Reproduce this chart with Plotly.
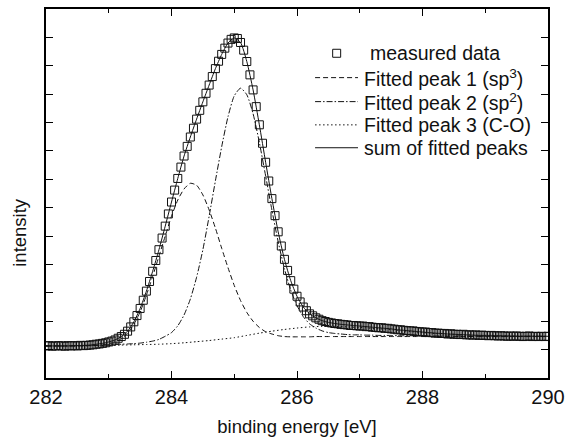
import plotly.graph_objects as go

# binding energy grid: data every 0.05 eV, fits every 0.1 eV, peak 3 every 0.2 eV, all from 282 eV
e_start = 282.0

# measured C1s spectrum (intensity, arb. units), 282.00 ... 290.00 eV in 0.05 eV steps
measured = [
    1.13, 1.14, 1.12, 1.13, 1.14, 1.13, 1.12, 1.14, 1.13, 1.14, 1.13, 1.15, 1.14, 1.15, 1.16, 1.17, 1.19, 1.20, 1.22, 1.24,
    1.27, 1.30, 1.34, 1.40, 1.46, 1.54, 1.65, 1.80, 1.98, 2.20, 2.45, 2.74, 3.06, 3.40, 3.76, 4.14, 4.52, 4.93, 5.35, 5.78,
    6.20, 6.62, 7.03, 7.43, 7.82, 8.16, 8.49, 8.80, 9.12, 9.43, 9.73, 10.03, 10.32, 10.62, 10.90, 11.16, 11.40, 11.62, 11.80, 11.93,
    11.98, 11.96, 11.82, 11.55, 11.15, 10.68, 10.15, 9.56, 8.92, 8.27, 7.60, 6.94, 6.32, 5.72, 5.15, 4.65, 4.18, 3.79, 3.43, 3.13,
    2.88, 2.68, 2.50, 2.37, 2.26, 2.19, 2.12, 2.07, 2.02, 1.99, 1.96, 1.94, 1.92, 1.91, 1.89, 1.88, 1.87, 1.85, 1.85, 1.84,
    1.83, 1.83, 1.81, 1.81, 1.79, 1.78, 1.77, 1.77, 1.75, 1.75, 1.73, 1.72, 1.70, 1.70, 1.68, 1.67, 1.66, 1.66, 1.64, 1.63,
    1.62, 1.62, 1.60, 1.60, 1.58, 1.58, 1.57, 1.57, 1.55, 1.56, 1.54, 1.54, 1.53, 1.54, 1.52, 1.52, 1.51, 1.52, 1.50, 1.51,
    1.50, 1.49, 1.50, 1.49, 1.48, 1.49, 1.48, 1.47, 1.48, 1.47, 1.48, 1.47, 1.46, 1.47, 1.48, 1.46, 1.47, 1.46, 1.47, 1.46,
    1.47,
]

# fitted components (background included), 0.1 eV steps
peak1_sp3 = [
    1.13, 1.13, 1.13, 1.13, 1.13, 1.13, 1.13, 1.14, 1.15, 1.17,
    1.21, 1.27, 1.38, 1.58, 1.89, 2.33, 2.92, 3.58, 4.29, 5.00,
    5.70, 6.27, 6.66, 6.86, 6.79, 6.45, 5.92, 5.28, 4.57, 3.89,
    3.26, 2.73, 2.31, 2.00, 1.78, 1.63, 1.55, 1.49, 1.46, 1.45,
    1.45, 1.45, 1.45, 1.46, 1.46, 1.46, 1.46, 1.46, 1.46, 1.46,
    1.46, 1.46, 1.46, 1.46, 1.46, 1.46, 1.46, 1.46, 1.46, 1.46,
    1.46, 1.46, 1.46, 1.46, 1.46, 1.46, 1.46, 1.46, 1.46, 1.46,
    1.46, 1.46, 1.46, 1.46, 1.46, 1.46, 1.46, 1.46, 1.46, 1.46,
    1.46,
]
peak2_sp2 = [
    1.13, 1.13, 1.13, 1.13, 1.14, 1.14, 1.14, 1.15, 1.15, 1.16,
    1.17, 1.18, 1.19, 1.20, 1.21, 1.23, 1.26, 1.30, 1.36, 1.47,
    1.60, 1.84, 2.22, 2.78, 3.55, 4.52, 5.70, 6.95, 8.15, 9.20,
    9.94, 10.21, 9.98, 9.31, 8.30, 7.12, 5.92, 4.80, 3.85, 3.10,
    2.55, 2.16, 1.91, 1.76, 1.66, 1.60, 1.57, 1.55, 1.53, 1.52,
    1.52, 1.51, 1.51, 1.50, 1.50, 1.50, 1.49, 1.49, 1.49, 1.49,
    1.49, 1.48, 1.48, 1.48, 1.48, 1.48, 1.48, 1.47, 1.47, 1.47,
    1.47, 1.47, 1.47, 1.47, 1.47, 1.47, 1.47, 1.47, 1.47, 1.47,
    1.47,
]
fit_sum = [
    1.13, 1.13, 1.13, 1.13, 1.13, 1.14, 1.15, 1.16, 1.19, 1.22,
    1.27, 1.34, 1.46, 1.65, 1.98, 2.45, 3.06, 3.76, 4.52, 5.35,
    6.20, 7.03, 7.82, 8.49, 9.12, 9.73, 10.32, 10.90, 11.40, 11.80,
    11.98, 11.82, 11.15, 10.15, 8.92, 7.60, 6.32, 5.15, 4.18, 3.43,
    2.88, 2.50, 2.26, 2.12, 2.02, 1.96, 1.92, 1.89, 1.87, 1.85,
    1.83, 1.81, 1.79, 1.77, 1.75, 1.73, 1.70, 1.68, 1.66, 1.64,
    1.62, 1.60, 1.58, 1.57, 1.55, 1.54, 1.53, 1.52, 1.51, 1.50,
    1.50, 1.50, 1.49, 1.48, 1.48, 1.47, 1.47, 1.47, 1.47, 1.47,
    1.47,
]
# C-O component, 0.2 eV steps
peak3_co = [
    1.13, 1.13, 1.13, 1.14, 1.14, 1.15, 1.16, 1.17, 1.18, 1.19,
    1.21, 1.24, 1.28, 1.32, 1.37, 1.42, 1.50, 1.58, 1.65, 1.71,
    1.76, 1.80, 1.82, 1.82, 1.80, 1.78, 1.75, 1.72, 1.68, 1.64,
    1.60, 1.57, 1.55, 1.53, 1.51, 1.50, 1.49, 1.48, 1.47, 1.47,
    1.46,
]

legend_labels = [
    "measured data",
    "Fitted peak 1 (sp<sup>3</sup>)",
    "Fitted peak 2 (sp<sup>2</sup>)",
    "Fitted peak 3 (C-O)",
    "sum of fitted peaks",
]

FONT = "Liberation Sans, Arial, Helvetica, sans-serif"
INK = "#111111"
DASH1 = "5px,3px"
DASH2 = "6px,2px,1.5px,2px"
DASH3 = "1.5px,2.5px"

fig = go.Figure()
fig.add_trace(go.Scatter(
    y=measured, x0=e_start, dx=0.05, mode="markers", name=legend_labels[0],
    marker=dict(symbol="square-open", size=8, color=INK, line=dict(width=1, color=INK)),
))
fig.add_trace(go.Scatter(
    y=peak1_sp3, x0=e_start, dx=0.1, mode="lines", name=legend_labels[1],
    line=dict(color=INK, width=1, dash=DASH1, shape="spline", smoothing=0.6),
))
fig.add_trace(go.Scatter(
    y=peak2_sp2, x0=e_start, dx=0.1, mode="lines", name=legend_labels[2],
    line=dict(color=INK, width=1, dash=DASH2, shape="spline", smoothing=0.6),
))
fig.add_trace(go.Scatter(
    y=peak3_co, x0=e_start, dx=0.2, mode="lines", name=legend_labels[3],
    line=dict(color=INK, width=1, dash=DASH3, shape="spline", smoothing=0.6),
))
fig.add_trace(go.Scatter(
    y=fit_sum, x0=e_start, dx=0.1, mode="lines", name=legend_labels[4],
    line=dict(color=INK, width=1, shape="spline", smoothing=0.6),
))

# hand-placed legend (in paper coordinates) so row spacing matches the original
row_y = [0.880, 0.814, 0.749, 0.686, 0.624]
text_x = [0.641, 0.6295, 0.6295, 0.6295, 0.6295]
line_x0, line_x1, marker_x = 0.536, 0.6215, 0.579

annotations = [dict(
    text="intensity", textangle=-90, xref="paper", yref="paper",
    x=-0.052, y=0.396, xanchor="center", yanchor="middle",
    showarrow=False, font=dict(size=18.5, family=FONT, color=INK),
)]
for label, tx, ty in zip(legend_labels, text_x, row_y):
    annotations.append(dict(
        text=label, xref="paper", yref="paper", x=tx, y=ty,
        xanchor="left", yanchor="middle", showarrow=False,
        font=dict(size=19.5, family=FONT, color=INK),
    ))

shapes = [dict(
    type="rect", xref="paper", yref="paper", xsizemode="pixel", ysizemode="pixel",
    xanchor=marker_x, yanchor=row_y[0], x0=-4, x1=4, y0=-4, y1=4,
    line=dict(color=INK, width=1), fillcolor="rgba(0,0,0,0)",
)]
for dash, ty in zip([DASH1, DASH2, DASH3, "solid"], row_y[1:]):
    shapes.append(dict(
        type="line", xref="paper", yref="paper", x0=line_x0, x1=line_x1, y0=ty, y1=ty,
        line=dict(color=INK, width=1, dash=dash),
    ))

axis_common = dict(
    showline=True, linecolor="black", linewidth=1.6, mirror="ticks",
    ticks="inside", ticklen=7, tickwidth=1.2, tickcolor="black",
    showgrid=False, zeroline=False, automargin=False,
)

fig.update_layout(
    width=568, height=441,
    margin=dict(l=46, r=20, t=9, b=63),
    paper_bgcolor="white", plot_bgcolor="white",
    font=dict(family=FONT, size=20, color=INK),
    showlegend=False,
    xaxis=dict(
        range=[282, 290], dtick=2, tick0=282,
        minor=dict(dtick=1, ticks="inside", ticklen=4, tickwidth=1.2, tickcolor="black"),
        title=dict(text="binding energy [eV]", font=dict(size=18.5), standoff=13),
        tickfont=dict(size=20),
        **axis_common,
    ),
    yaxis=dict(
        range=[0, 13], dtick=1, tick0=0, showticklabels=False,
        **axis_common,
    ),
    annotations=annotations,
    shapes=shapes,
)

fig.write_html(
    "out.html",
    config={"displayModeBar": False},
    post_script="document.body.style.margin='0';",
)
